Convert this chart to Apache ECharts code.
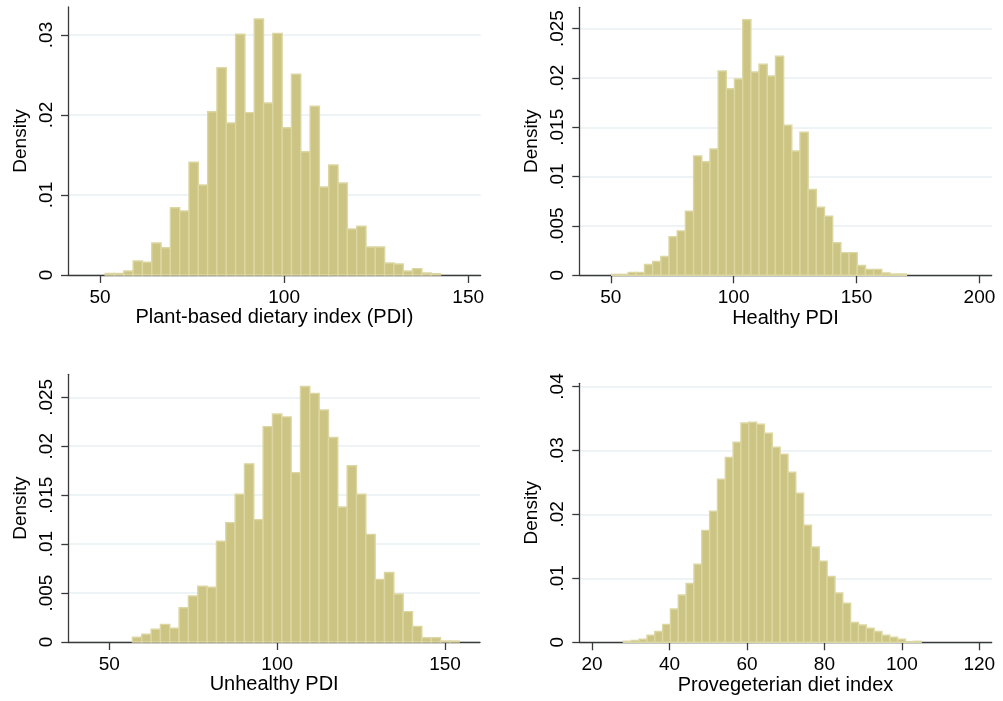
<!DOCTYPE html>
<html>
<head>
<meta charset="utf-8">
<script src="https://cdn.jsdelivr.net/npm/echarts@6/dist/echarts.min.js"></script>
<style>
  html, body { margin: 0; padding: 0; background: #fff; }
  #chart { width: 1003px; height: 701px; }
</style>
</head>
<body>
<div id="chart"></div>
<script>
// Plant-based dietary index (PDI)
const pdiStart = 51.4
const pdiWidth = 2.53
const pdiDensity = [0.0002, 0.0002, 0.0005, 0.00175, 0.0016, 0.004, 0.0034, 0.0084, 0.008, 0.0141,
  0.01125, 0.0204, 0.0259, 0.019, 0.0301, 0.0203, 0.032, 0.0215, 0.0302, 0.0184,
  0.0251, 0.0154, 0.0211, 0.011, 0.01375, 0.0115, 0.00575, 0.0061, 0.0035, 0.0035,
  0.0015, 0.00138, 0.0005, 0.0008, 0.00025, 0.00017]
const pdiTicksX = [50, 100, 150]
const pdiTicksY = [0, 0.01, 0.02, 0.03]

// Healthy PDI
const hpdiStart = 50.4
const hpdiWidth = 3.33
const hpdiDensity = [0.0001, 0.0001, 0.0003, 0.0003, 0.0011, 0.0014, 0.0019, 0.0039, 0.0045, 0.0065,
  0.0121, 0.0115, 0.0128, 0.0207, 0.0189, 0.0199, 0.0259, 0.0206, 0.0214, 0.0202,
  0.0222, 0.0152, 0.0126, 0.0145, 0.0087, 0.0069, 0.006, 0.0033, 0.0023, 0.0023,
  0.001, 0.0006, 0.0006, 0.00024, 0.00013, 0.00013]
const hpdiTicksX = [50, 100, 150, 200]
const hpdiTicksY = [0, 0.005, 0.01, 0.015, 0.02, 0.025]

// Unhealthy PDI
const updiStart = 56.9
const updiWidth = 2.78
const updiDensity = [0.00048, 0.0008, 0.0013, 0.0018, 0.0014, 0.0035, 0.0047, 0.0057, 0.0056, 0.0103,
  0.0122, 0.0151, 0.0182, 0.0125, 0.022, 0.0233, 0.023, 0.0173, 0.0261, 0.0254,
  0.0237, 0.0209, 0.0138, 0.018, 0.0151, 0.011, 0.0064, 0.0071, 0.0049, 0.0031,
  0.0016, 0.00044, 0.00044, 0.0001, 0.0001]
const updiTicksX = [50, 100, 150]
const updiTicksY = [0, 0.005, 0.01, 0.015, 0.02, 0.025]

// Provegeterian diet index
const provegStart = 28.1
const provegWidth = 2.023
const provegDensity = [0.00016, 0.0003, 0.0005, 0.0011, 0.0017, 0.0028, 0.0052, 0.0074, 0.0092, 0.0122,
  0.0175, 0.0205, 0.0255, 0.0289, 0.0313, 0.0343, 0.0344, 0.0341, 0.0327, 0.0305,
  0.0294, 0.0266, 0.0233, 0.0183, 0.0149, 0.0127, 0.0103, 0.0077, 0.0061, 0.0031,
  0.0027, 0.0022, 0.0017, 0.0011, 0.0008, 0.0005, 0.0001, 0.00016]
const provegTicksX = [20, 40, 60, 80, 100, 120]
const provegTicksY = [0, 0.01, 0.02, 0.03, 0.04]

const FONT = '"Liberation Sans", Arial, sans-serif'
const AXIS_COLOR = '#3a3a3a'

const fmtDensity = function (v) {
  return v === 0 ? '0' : String(v).replace(/^0/, '')
}

const panels = [
  { title: 'Plant-based dietary index (PDI)', start: pdiStart, width: pdiWidth, density: pdiDensity,
    ticksX: pdiTicksX, ticksY: pdiTicksY, xMin: 41.3, xMax: 153.4, yMax: 0.0335,
    grid: { left: 68, top: 7, width: 412.7, height: 268 } },
  { title: 'Healthy PDI', start: hpdiStart, width: hpdiWidth, density: hpdiDensity,
    ticksX: hpdiTicksX, ticksY: hpdiTicksY, xMin: 37.2, xMax: 205, yMax: 0.02716,
    grid: { left: 579.3, top: 7.3, width: 412.4, height: 268 } },
  { title: 'Unhealthy PDI', start: updiStart, width: updiWidth, density: updiDensity,
    ticksX: updiTicksX, ticksY: updiTicksY, xMin: 37.8, xMax: 160.4, yMax: 0.02735,
    grid: { left: 68.3, top: 374.3, width: 411.7, height: 267.7 } },
  { title: 'Provegeterian diet index', start: provegStart, width: provegWidth, density: provegDensity,
    ticksX: provegTicksX, ticksY: provegTicksY, xMin: 16.7, xMax: 123.2, yMax: 0.0405,
    grid: { left: 579.3, top: 383.3, width: 412.4, height: 259 } }
]

const grids = []
const xAxes = []
const yAxes = []
const series = []

panels.forEach(function (p, i) {
  grids.push(p.grid)
  xAxes.push({
    gridIndex: i,
    type: 'value',
    min: p.xMin,
    max: p.xMax,
    name: p.title,
    nameLocation: 'middle',
    nameGap: 31,
    nameTextStyle: { fontFamily: FONT, fontSize: 20, color: '#000' },
    axisLine: { show: true, onZero: false, lineStyle: { color: AXIS_COLOR, width: 1.3 } },
    axisTick: { show: true, length: 8, customValues: p.ticksX, lineStyle: { color: AXIS_COLOR, width: 1.3 } },
    axisLabel: { customValues: p.ticksX, margin: 13, fontFamily: FONT, fontSize: 19, color: '#000' },
    splitLine: { show: false }
  })
  yAxes.push({
    gridIndex: i,
    type: 'value',
    min: 0,
    max: p.yMax,
    name: 'Density',
    nameLocation: 'middle',
    nameGap: 38,
    nameTextStyle: { fontFamily: FONT, fontSize: 19, color: '#000' },
    axisLine: { show: true, lineStyle: { color: AXIS_COLOR, width: 1.3 } },
    axisTick: { show: true, length: 7, customValues: p.ticksY, lineStyle: { color: AXIS_COLOR, width: 1.3 } },
    axisLabel: { customValues: p.ticksY, rotate: 90, margin: 12, formatter: fmtDensity, fontFamily: FONT, fontSize: 19, color: '#000' },
    splitLine: { show: true, lineStyle: { color: '#e8f0f2', width: 1.5 } }
  })
  // histogram bins: [left edge, right edge, density]
  const bins = p.density.map(function (d, k) {
    return [p.start + k * p.width, p.start + (k + 1) * p.width, d]
  })
  series.push({
    type: 'custom',
    xAxisIndex: i,
    yAxisIndex: i,
    encode: { x: [0, 1], y: 2 },
    data: bins,
    renderItem: function (params, api) {
      const a = api.coord([api.value(0), api.value(2)])
      const b = api.coord([api.value(1), 0])
      return {
        type: 'rect',
        shape: { x: a[0], y: a[1], width: b[0] - a[0], height: b[1] - a[1] },
        style: { fill: '#ccc482', stroke: '#dcd6a2', lineWidth: 1.4 }
      }
    }
  })
})

const myChart = echarts.init(document.getElementById('chart'))
myChart.setOption({
  animation: false,
  backgroundColor: '#fff',
  grid: grids,
  xAxis: xAxes,
  yAxis: yAxes,
  series: series
})
</script>
</body>
</html>
